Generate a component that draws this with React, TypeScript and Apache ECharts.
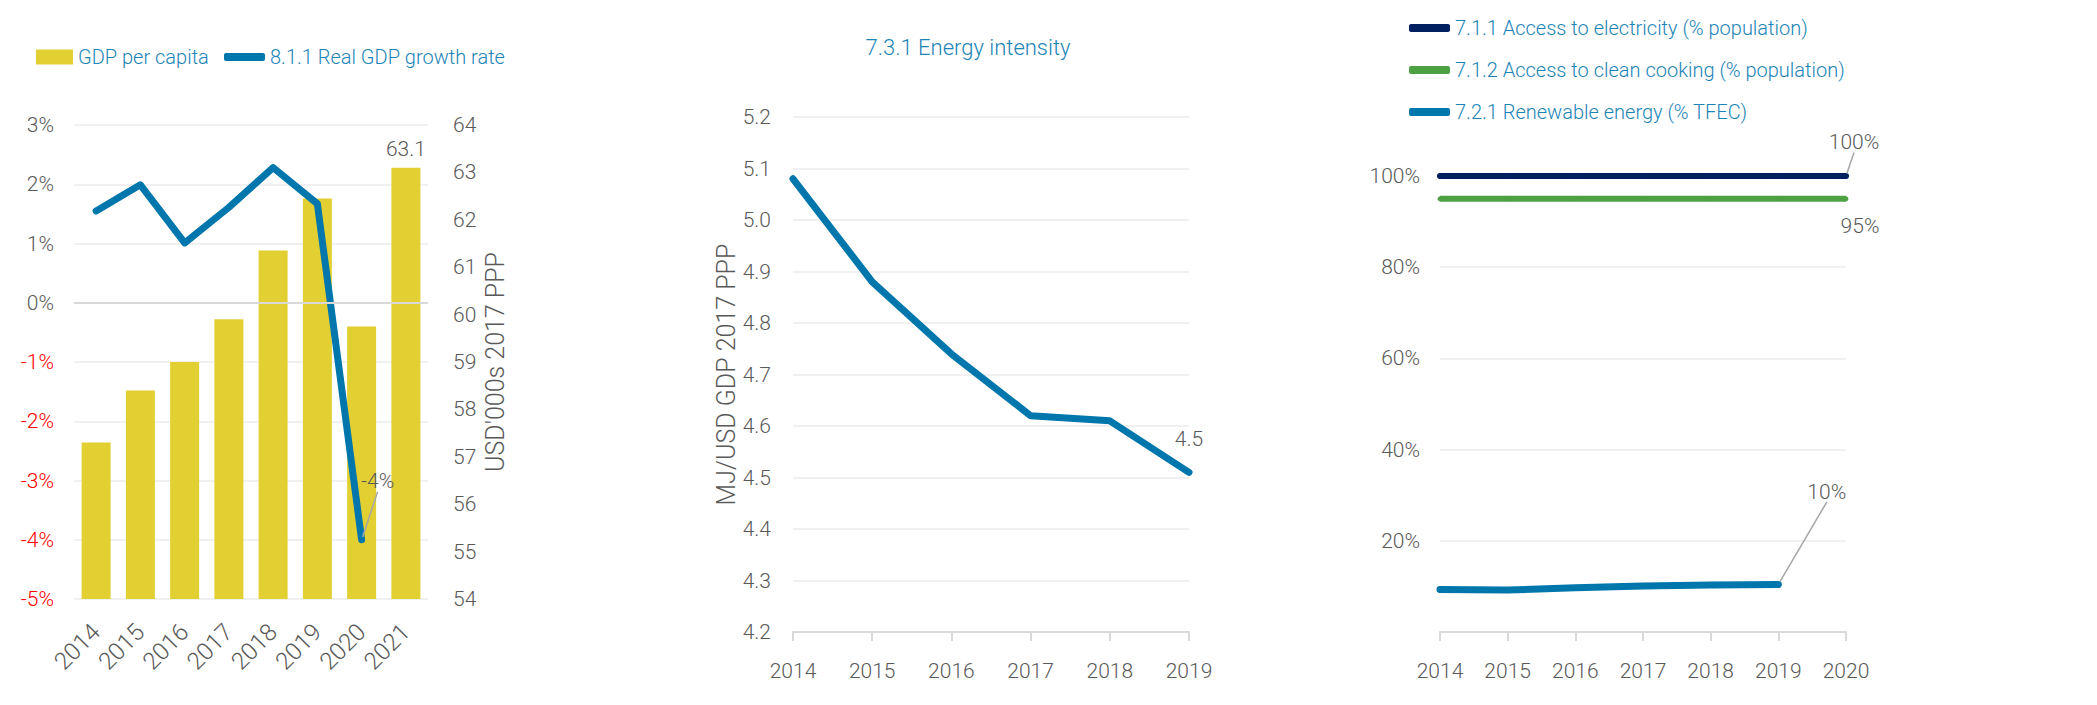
import React, { useEffect, useRef } from "react";
import * as echarts from "echarts";

// ---------- fonts / colours ----------
const FONT = "Roboto, 'Liberation Sans', sans-serif";
const WEIGHT = 300;
const GREY = "#595959";
const RED = "#FF0000";
const LEGEND_BLUE = "#1B84B6";
const LINE_BLUE = "#0077AC";
const NAVY = "#002060";
const GREEN = "#4EA143";
const YELLOW = "#E2D033";
const GRID_LINE = "#F0F0F0";
const AXIS_LINE = "#D9D9D9";

// ---------- chart 1 data ----------
const gdpYears = ["2014", "2015", "2016", "2017", "2018", "2019", "2020", "2021"];
const gdpPerCapita = [57.3, 58.4, 59.0, 59.9, 61.35, 62.45, 59.75, 63.1];
const realGdpGrowth = [1.55, 1.99, 1.01, 1.61, 2.28, 1.67, -4.0, null];
const growthAxis = { min: -5, max: 3, interval: 1 };
const gdpAxis = { min: 54, max: 64, interval: 1 };

// ---------- chart 2 data ----------
const eiYears = ["2014", "2015", "2016", "2017", "2018", "2019"];
const energyIntensity = [5.08, 4.88, 4.74, 4.62, 4.61, 4.51];
const eiAxis = { min: 4.2, max: 5.2, interval: 0.1 };

// ---------- chart 3 data ----------
const accessYears = ["2014", "2015", "2016", "2017", "2018", "2019", "2020"];
const electricityAccess = [100, 100, 100, 100, 100, 100, 100];
const cleanCooking = [95, 95, 95, 95, 95, 95, 95];
const renewableShare = [9.3, 9.2, 9.7, 10.1, 10.3, 10.4, null];
const accessAxis = { min: 0, max: 100, interval: 20 };

const S_GDP = "GDP per capita";
const S_GROWTH = "8.1.1 Real GDP growth rate";
const S_ELEC = "7.1.1 Access to electricity (% population)";
const S_COOK = "7.1.2 Access to clean cooking (% population)";
const S_REN = "7.2.1 Renewable energy (% TFEC)";

const TICK_SIZE = 21;
const LEGEND_SIZE = 20;
const NAME_SIZE = 25;

function lastLabel(arr: (number | null)[], fmt: (v: number) => string, extra: any) {
  let last = -1;
  arr.forEach((v, i) => {
    if (v !== null) last = i;
  });
  return arr.map((v, i) =>
    i === last && v !== null
      ? { value: v, label: { show: true, formatter: fmt(v), ...extra } }
      : v
  );
}

export default function App() {
  const ref = useRef<HTMLDivElement>(null);

  useEffect(() => {
    if (!ref.current) return;
    const chart = echarts.init(ref.current, undefined, { renderer: "svg" });

    const tickLabel = { color: GREY, fontFamily: FONT, fontSize: TICK_SIZE, fontWeight: WEIGHT };
    const legendText = { color: LEGEND_BLUE, fontFamily: FONT, fontSize: LEGEND_SIZE, fontWeight: WEIGHT };
    const dataLabel = { color: GREY, fontFamily: FONT, fontSize: TICK_SIZE, fontWeight: WEIGHT };
    const nameStyle = { color: GREY, fontFamily: FONT, fontSize: NAME_SIZE, fontWeight: WEIGHT };

    const option: any = {
      animation: false,
      backgroundColor: "#ffffff",
      textStyle: { fontFamily: FONT },
      graphic: [
        {
          type: "text",
          x: 968,
          y: 47,
          style: {
            text: "7.3.1 Energy intensity",
            fill: LEGEND_BLUE,
            fontFamily: FONT,
            fontWeight: WEIGHT,
            fontSize: 22,
            align: "center",
            verticalAlign: "middle",
          },
        },
      ],
      legend: [
        {
          data: [S_GDP],
          left: 36,
          top: 47,
          padding: 0,
          selectedMode: false,
          icon: "rect",
          itemWidth: 37,
          itemHeight: 15,
          textStyle: legendText,
        },
        {
          data: [S_GROWTH],
          left: 224,
          top: 47,
          padding: 0,
          selectedMode: false,
          icon: "roundRect",
          itemWidth: 41,
          itemHeight: 8,
          textStyle: legendText,
        },
        {
          data: [S_ELEC, S_COOK, S_REN],
          orient: "vertical",
          left: 1409,
          top: 18,
          padding: 0,
          itemGap: 22,
          selectedMode: false,
          icon: "roundRect",
          itemWidth: 41,
          itemHeight: 8,
          textStyle: legendText,
        },
      ],
      grid: [
        { left: 74, top: 125, width: 354, height: 474 },
        { left: 793, top: 117, width: 396, height: 515 },
        { left: 1440, top: 176, width: 406, height: 456 },
      ],
      xAxis: [
        {
          type: "category",
          gridIndex: 0,
          data: gdpYears,
          boundaryGap: true,
          axisLine: { show: false },
          axisTick: { show: false },
          axisLabel: { ...tickLabel, fontSize: 24, rotate: 45, margin: 29, interval: 0 },
        },
        {
          type: "category",
          gridIndex: 1,
          data: eiYears,
          boundaryGap: false,
          axisLine: { show: true, lineStyle: { color: AXIS_LINE, width: 2 } },
          axisTick: { show: true, length: 9, lineStyle: { color: AXIS_LINE, width: 2 } },
          axisLabel: { ...tickLabel, margin: 28, interval: 0 },
        },
        {
          type: "category",
          gridIndex: 2,
          data: accessYears,
          boundaryGap: false,
          axisLine: { show: true, lineStyle: { color: AXIS_LINE, width: 2 } },
          axisTick: { show: true, length: 9, lineStyle: { color: AXIS_LINE, width: 2 } },
          axisLabel: { ...tickLabel, margin: 28, interval: 0 },
        },
      ],
      yAxis: [
        {
          type: "value",
          gridIndex: 0,
          position: "left",
          ...growthAxis,
          axisLine: { show: false },
          axisTick: { show: false },
          splitLine: { show: true, lineStyle: { color: GRID_LINE, width: 2 } },
          axisLabel: {
            ...tickLabel,
            margin: 20,
            formatter: (v: number) => `${v}%`,
            color: (v: any) => (Number(v) < 0 ? RED : GREY),
          },
        },
        {
          type: "value",
          gridIndex: 0,
          position: "right",
          ...gdpAxis,
          axisLine: { show: false },
          axisTick: { show: false },
          splitLine: { show: false },
          axisLabel: { ...tickLabel, margin: 25 },
          name: "USD'000s 2017 PPP",
          nameLocation: "middle",
          nameRotate: 90,
          nameGap: 55,
          nameTextStyle: nameStyle,
        },
        {
          type: "value",
          gridIndex: 1,
          ...eiAxis,
          axisLine: { show: false },
          axisTick: { show: false },
          splitLine: { show: true, lineStyle: { color: GRID_LINE, width: 2 } },
          axisLabel: { ...tickLabel, margin: 22, formatter: (v: number) => v.toFixed(1) },
          name: "MJ/USD GDP 2017 PPP",
          nameLocation: "middle",
          nameRotate: 90,
          nameGap: 46,
          nameTextStyle: nameStyle,
        },
        {
          type: "value",
          gridIndex: 2,
          ...accessAxis,
          axisLine: { show: false },
          axisTick: { show: false },
          splitLine: { show: true, lineStyle: { color: GRID_LINE, width: 2 } },
          axisLabel: {
            ...tickLabel,
            margin: 20,
            formatter: (v: number) => (v === 0 ? "" : `${v}%`),
          },
        },
      ],
      series: [
        // zero line for growth axis, below bars
        {
          type: "line",
          name: "zero",
          xAxisIndex: 0,
          yAxisIndex: 0,
          data: [],
          z: 1,
          silent: true,
          markLine: {
            silent: true,
            symbol: "none",
            label: { show: false },
            lineStyle: { color: AXIS_LINE, width: 2, type: "solid" },
            data: [{ yAxis: 0 }],
          },
        },
        {
          type: "bar",
          name: S_GDP,
          xAxisIndex: 0,
          yAxisIndex: 1,
          barWidth: 29,
          z: 2,
          itemStyle: { color: YELLOW },
          data: lastLabel(gdpPerCapita, (v) => v.toFixed(1), {
            position: "top",
            distance: 8,
            ...dataLabel,
          }),
        },
        {
          type: "line",
          name: S_GROWTH,
          xAxisIndex: 0,
          yAxisIndex: 0,
          z: 3,
          symbol: "circle",
          symbolSize: 6,
          showSymbol: true,
          itemStyle: { color: LINE_BLUE },
          lineStyle: { color: LINE_BLUE, width: 7, cap: "round", join: "round" },
          data: lastLabel(realGdpGrowth, (v) => `${Math.round(v)}%`, {
            position: "top",
            distance: 5,
            ...dataLabel,
          }),
          labelLayout: { dx: 16, dy: -40 },
          labelLine: { show: true, lineStyle: { color: "#A6A6A6", width: 1.5 } },
        },
        {
          type: "line",
          name: "7.3.1 Energy intensity",
          xAxisIndex: 1,
          yAxisIndex: 2,
          symbol: "circle",
          symbolSize: 6,
          itemStyle: { color: LINE_BLUE },
          lineStyle: { color: LINE_BLUE, width: 7, cap: "round", join: "round" },
          data: lastLabel(energyIntensity, (v) => v.toFixed(1), {
            position: "top",
            distance: 20,
            ...dataLabel,
          }),
        },
        {
          type: "line",
          name: S_ELEC,
          xAxisIndex: 2,
          yAxisIndex: 3,
          symbol: "circle",
          symbolSize: 5,
          z: 4,
          itemStyle: { color: NAVY },
          lineStyle: { color: NAVY, width: 6, cap: "round" },
          data: lastLabel(electricityAccess, (v) => `${Math.round(v)}%`, {
            position: "top",
            distance: 5,
            ...dataLabel,
          }),
          labelLayout: { dx: 8, dy: -16 },
          labelLine: { show: true, lineStyle: { color: "#A6A6A6", width: 1.5 } },
        },
        {
          type: "line",
          name: S_COOK,
          xAxisIndex: 2,
          yAxisIndex: 3,
          symbol: "circle",
          symbolSize: 5,
          itemStyle: { color: GREEN },
          lineStyle: { color: GREEN, width: 6, cap: "butt" },
          data: lastLabel(cleanCooking, (v) => `${Math.round(v)}%`, {
            position: "bottom",
            distance: 16,
            offset: [14, -2],
            ...dataLabel,
          }),
        },
        {
          type: "line",
          name: S_REN,
          xAxisIndex: 2,
          yAxisIndex: 3,
          symbol: "circle",
          symbolSize: 6,
          itemStyle: { color: LINE_BLUE },
          lineStyle: { color: LINE_BLUE, width: 7, cap: "round" },
          data: lastLabel(renewableShare, (v) => `${Math.round(v)}%`, {
            position: "right",
            distance: 5,
            ...dataLabel,
          }),
          labelLayout: { dx: 21, dy: -93 },
          labelLine: { show: true, lineStyle: { color: "#A6A6A6", width: 1.5 } },
        },
      ],
    };

    chart.setOption(option);
    return () => chart.dispose();
  }, []);

  return (
    <div
      ref={ref}
      style={{ position: "fixed", left: 0, top: 0, width: 2097, height: 705, background: "#fff" }}
    />
  );
}
